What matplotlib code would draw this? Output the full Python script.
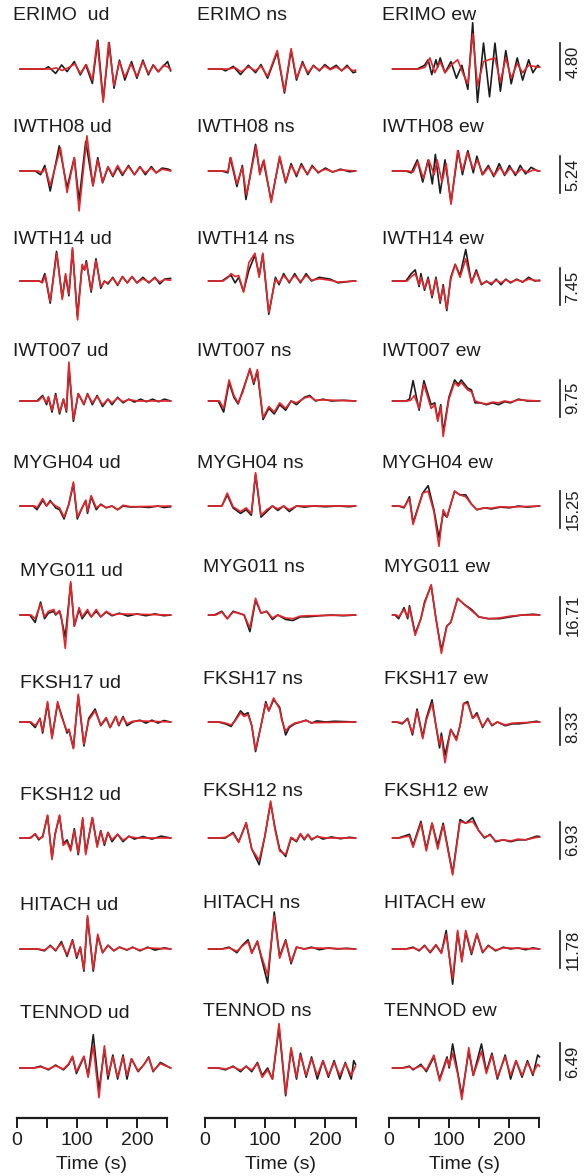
import numpy as np
import matplotlib
matplotlib.use("Agg")
import matplotlib.pyplot as plt

plt.rcParams["font.family"] = ["Liberation Sans", "DejaVu Sans"]

# Stations, components and scale-bar values (amplitudes in units of the scale bar)
stations = ["ERIMO", "IWTH08", "IWTH14", "IWT007", "MYGH04",
            "MYG011", "FKSH17", "FKSH12", "HITACH", "TENNOD"]
components = ["ud", "ns", "ew"]
scale_labels = ["4.80", "5.24", "7.45", "9.75", "15.25",
                "16.71", "8.33", "6.93", "11.78", "6.49"]
tick_values = [0, 50, 100, 150, 200, 250]
tick_labels = ["0", "", "100", "", "200", ""]

# (time s, amplitude) extrema, black = observed, red = synthetic
ERIMO_ud_obs = [(6, 0), (47, 0), (53, .06), (65, -.12), (75, .11), (84, -.07), (96, .2), (106, -.16), (115, .11),
                (126, -.39), (135, .78), (144, -.84), (154, .71), (162, -.52), (171, .24), (180, -.3), (191, .2),
                (200, -.25), (210, .24), (219, -.16), (227, .11), (235, -.07), (243, .06), (251, .2), (256, -.05)]
ERIMO_ud_syn = [(6, 0), (58, 0), (66, .03), (76, -.04), (88, .05), (97, .14), (106, -.12), (116, .12), (126, -.3),
                (134, .75), (144, -.9), (153, .72), (162, -.45), (171, .2), (180, -.22), (190, .14), (200, -.2),
                (210, .2), (219, -.12), (228, .1), (236, -.08), (244, .1), (251, .06), (256, -.02)]
ERIMO_ns_obs = [(6, 0), (28, 0), (34, -.05), (47, .07), (59, -.15), (72, .1), (84, -.1), (93, .12), (104, -.25),
                (120, .45), (132, -.65), (143, .5), (152, -.3), (162, .2), (171, -.15), (180, .1), (190, -.05),
                (199, .12), (208, 0), (218, .1), (227, -.05), (236, .1), (246, -.1), (250, -.08)]
ERIMO_ns_syn = [(6, 0), (40, 0), (50, .04), (60, -.08), (72, .06), (84, -.05), (93, .08), (104, -.2), (120, .5),
                (132, -.6), (143, .55), (152, -.25), (162, .15), (171, -.1), (180, .08), (190, -.03), (199, .08),
                (208, -.02), (218, .06), (227, -.04), (236, .06), (246, -.05), (250, -.03)]
ERIMO_ew_obs = [(6, 0), (47, 0), (59, .1), (65, .25), (71, -.15), (78, .25), (81, .05), (85, .3), (93, -.1),
                (103, .2), (112, -.25), (121, .1), (131, -.55), (139, 1.25), (147, -.9), (157, .7), (167, -.75),
                (176, .7), (185, -.6), (194, .5), (203, -.4), (213, .3), (222, -.3), (232, .25), (239, -.1),
                (247, .1), (250, .05)]
ERIMO_ew_syn = [(6, 0), (50, 0), (60, .05), (68, .3), (76, -.1), (85, .2), (93, -.1), (103, .1), (114, .25),
                (125, -.2), (131, -.4), (139, .95), (147, -.45), (157, .2), (166, .25), (176, .3), (185, -.35),
                (194, .3), (203, -.25), (213, .15), (222, -.1), (232, .1), (247, .05), (250, .05)]

IWTH08_ud_obs = [(6, 0), (31, 0), (40, -.1), (47, .15), (56, -.54), (71, .68), (84, -.45), (96, .36), (104, -.8),
                 (115, .8), (127, -.4), (135, .36), (143, -.32), (152, .1), (160, -.15), (168, .1), (176, -.12),
                 (186, .15), (196, -.1), (205, .12), (214, -.1), (224, .12), (232, -.05), (242, .08), (252, .05),
                 (256, .02)]
IWTH08_ud_syn = [(6, 0), (36, 0), (42, -.05), (48, .08), (56, -.4), (73, .63), (84, -.58), (96, .36), (104, -1.08),
                 (117, .95), (127, -.4), (135, .3), (143, -.3), (152, .12), (160, -.12), (168, .15), (176, -.08),
                 (186, .12), (196, -.1), (205, .1), (214, -.05), (224, .08), (232, -.05), (242, .05), (256, 0)]
IWTH08_ns_obs = [(6, 0), (28, 0), (38, -.05), (42, .36), (53, -.42), (62, .15), (68, -.77), (84, .72), (91, -.05),
                 (97, .27), (110, -.8), (124, .36), (134, -.32), (143, .2), (152, -.15), (160, .2), (170, -.1),
                 (178, .15), (188, -.05), (200, .08), (212, -.03), (225, .05), (240, -.02), (250, 0)]
IWTH08_ns_syn = [(6, 0), (32, 0), (38, -.02), (43, .36), (53, -.35), (62, .1), (69, -.65), (85, .68), (91, -.1),
                 (98, .3), (110, -.85), (124, .4), (134, -.3), (143, .15), (152, -.1), (160, .15), (170, -.08),
                 (178, .12), (188, -.03), (200, .05), (212, -.02), (225, .03), (250, 0)]
IWTH08_ew_obs = [(6, 0), (28, 0), (37, -.05), (47, .3), (56, -.3), (65, .3), (72, -.35), (77, .45), (85, -.6),
                 (93, .3), (103, -.85), (115, .55), (122, -.1), (131, .55), (140, -.05), (146, .4), (155, -.1),
                 (165, .15), (174, -.15), (183, .2), (192, -.12), (200, .15), (210, -.12), (218, .15), (227, -.08),
                 (236, .1), (247, 0), (250, 0)]
IWTH08_ew_syn = [(6, 0), (32, 0), (40, -.03), (48, .25), (57, -.2), (66, .3), (75, -.1), (80, .3), (88, -.3),
                 (95, .2), (103, -.9), (114, .55), (122, 0), (130, .5), (140, .05), (147, .3), (156, -.1), (165, .1),
                 (175, -.12), (184, .1), (193, -.1), (201, .08), (211, -.08), (220, .06), (230, -.04), (240, .03),
                 (250, 0)]

IWTH14_ud_obs = [(6, 0), (37, 0), (42, -.03), (47, .2), (56, -.6), (66.5, .8), (76, -.45), (81.5, .15), (87, -.4),
                 (93, .85), (101, -.95), (109, .4), (113, .3), (116, .55), (124, -.3), (132, .6), (140, -.2),
                 (146, 0), (152, -.08), (160, .1), (168, -.12), (176, .12), (184, -.05), (192, .12), (200, -.05),
                 (210, .1), (220, -.05), (230, .1), (238, -.08), (246, .05), (256, .07)]
IWTH14_ud_syn = [(6, 0), (38, 0), (43, -.05), (48, .15), (56, -.55), (67, .75), (76, -.5), (81.5, .2), (87, -.35),
                 (93, .9), (101.5, -1.05), (109, .45), (113, .3), (116, .5), (124, -.25), (132, .55), (140, -.15),
                 (146, -.02), (152, -.05), (160, .08), (168, -.1), (176, .12), (184, -.05), (192, .12), (200, -.05),
                 (210, .06), (220, -.03), (230, .08), (238, -.03), (246, .04), (256, .02)]
IWTH14_ns_obs = [(6, 0), (28, 0), (37, .1), (43.5, .15), (50, -.05), (56, .1), (64, -.28), (73, .3), (83, .7),
                 (90, .15), (96, .72), (106, -.9), (117, .1), (123, -.1), (130.6, .2), (140, -.05), (149, .2),
                 (158.6, -.05), (168, .2), (177, 0), (190, .1), (208, .05), (221, -.05), (246, 0), (250, 0)]
IWTH14_ns_syn = [(6, 0), (30, 0), (37, .08), (43.5, .2), (50, .12), (56, .15), (64, -.3), (73, .5), (83, .75),
                 (90, .1), (96, .75), (106, -.85), (117, .05), (123, -.05), (130.6, .15), (140, -.02), (149, .15),
                 (158.6, -.02), (168, .15), (177, .02), (190, .06), (208, .02), (221, -.03), (250, 0)]
IWTH14_ew_obs = [(6, 0), (28, 0), (37, .2), (43.5, .3), (50, -.15), (53, .2), (59, -.25), (65, .1), (71.5, -.45),
                 (78, .1), (85, -.6), (90, -.1), (96, -.8), (102.6, .1), (110, .45), (118, .15), (127.5, .85),
                 (137, -.05), (145, .3), (153.5, -.1), (162, 0), (170, -.1), (178, .05), (186, -.1), (194, .05),
                 (202, -.05), (212, .05), (222, -.03), (232, .1), (242, 0), (250, .02)]
IWTH14_ew_syn = [(6, 0), (30, 0), (37, .12), (43.5, .2), (50, -.1), (53, .1), (59, -.2), (65, .05), (71.5, -.4),
                 (78, .05), (85, -.55), (90, -.15), (96, -.75), (102.6, .05), (110, .45), (118, .1), (127.5, .6),
                 (137, -.05), (145, .25), (153.5, -.08), (162, -.02), (170, -.06), (178, .02), (186, -.05),
                 (194, .03), (202, -.03), (212, .03), (222, -.02), (232, .05), (250, 0)]

IWT007_ud_obs = [(6, 0), (34, 0), (43.5, .15), (50, -.1), (53, .1), (59, -.3), (65, .2), (71.5, -.35), (78, .05),
                 (83, -.3), (87, .9), (94.5, -.55), (102.6, .2), (112, -.1), (118, .2), (126, -.1), (134, .15),
                 (143, -.15), (152, .05), (158.6, -.1), (168, .1), (177, -.05), (186.6, .05), (196, -.03),
                 (206, .05), (216, -.02), (226, .05), (236, -.02), (246, .05), (256, 0)]
IWT007_ud_syn = [(6, 0), (36, 0), (43.5, .12), (50, -.05), (53, .12), (59, -.25), (65, .15), (71.5, -.3), (78, .05),
                 (83, -.25), (87, 1.05), (94.5, -.5), (102.6, .2), (112, -.08), (118, .18), (126, -.05), (134, .12),
                 (143, -.1), (152, .05), (158.6, -.05), (168, .08), (177, -.02), (186.6, .04), (200, 0), (256, 0)]
IWT007_ns_obs = [(6, 0), (22, 0), (31, -.3), (40, .5), (48, .1), (55, -.08), (63, .3), (74.6, .85), (81, .45),
                 (87, .8), (96.4, -.5), (106, -.2), (115, -.35), (124, -.1), (134, -.25), (143, 0), (152, -.1),
                 (165, .1), (174, .15), (183.5, 0), (196, .05), (210, 0), (230, .02), (250, 0)]
IWT007_ns_syn = [(6, 0), (24, 0), (31, -.2), (40, .57), (48, .15), (55, -.05), (63, .25), (74.6, .88), (81, .5),
                 (87, .85), (96.4, -.45), (106, -.15), (115, -.3), (124, -.05), (134, -.2), (143, 0), (152, -.05),
                 (165, .08), (174, .12), (183.5, .02), (196, .03), (250, 0)]
IWT007_ew_obs = [(6, 0), (28, 0), (34, .05), (40, .55), (50, -.25), (58, .55), (70, -.1), (76, -.05), (81, -.5),
                 (86, -.1), (90, -.85), (99.5, .1), (109, .57), (115, .45), (120, .57), (130.6, .35), (137, .3),
                 (143, -.05), (152, -.05), (162, -.1), (172, -.05), (182, -.1), (192, -.02), (202, -.05),
                 (215, .05), (230, 0), (250, 0)]
IWT007_ew_syn = [(6, 0), (30, 0), (36, .02), (42, .15), (50, -.2), (58, .45), (70, -.2), (76, -.1), (81, -.55),
                 (86, -.15), (90, -.96), (99.5, .05), (109, .5), (115, .4), (120, .5), (130.6, .3), (137, .25),
                 (143, 0), (152, -.05), (162, -.08), (172, -.03), (182, -.05), (192, 0), (202, -.03), (215, .03),
                 (250, 0)]

MYGH04_ud_obs = [(6, 0), (28, 0), (34, -.1), (43.5, .15), (50, 0), (56, .15), (65, -.05), (71.5, -.1), (79, -.35),
                 (87, .05), (94.5, .6), (101, -.35), (109, -.05), (115, .15), (118, -.2), (124, .25), (132.5, -.1),
                 (140, .05), (149, -.05), (158.6, 0), (168, -.1), (177, 0), (190, -.03), (205, -.02), (220, -.04),
                 (235, 0), (245, -.04), (256, -.02)]
MYGH04_ud_syn = [(6, 0), (30, 0), (34, -.05), (43.5, .2), (50, 0), (56, .12), (65, 0), (71.5, -.05), (79, -.3),
                 (87, .05), (94.5, .65), (101, -.3), (109, -.05), (115, .15), (118, -.15), (124, .28), (132.5, -.05),
                 (140, .03), (149, -.04), (158.6, 0), (168, -.1), (177, .02), (190, -.02), (256, 0)]
MYGH04_ns_obs = [(6, 0), (28, 0), (37, .3), (46.6, -.05), (59, -.2), (68.4, -.1), (77, -.25), (84, .85), (93, -.3),
                 (102.6, -.15), (112, 0), (121, -.12), (130.6, 0), (140, -.15), (152, 0), (165, -.03), (180, 0),
                 (200, -.02), (220, 0), (240, -.02), (250, 0)]
MYGH04_ns_syn = [(6, 0), (28, 0), (37, .35), (46.6, -.02), (59, -.15), (68.4, -.05), (77, -.2), (84, .9), (93, -.25),
                 (102.6, -.1), (112, 0), (121, -.08), (130.6, 0), (140, -.1), (152, 0), (250, 0)]
MYGH04_ew_obs = [(6, 0), (16, 0), (25, -.05), (34, .25), (40, -.45), (56, .35), (65, .55), (74.6, -.1), (83, -.85),
                 (90, -.2), (96.4, -.3), (109, .4), (118, .3), (127.5, .3), (137, .05), (146, -.1), (158.6, -.05),
                 (170, -.08), (185, -.03), (200, -.05), (215, 0), (230, -.03), (250, 0)]
MYGH04_ew_syn = [(6, 0), (18, 0), (25, -.03), (34, .2), (40, -.5), (56, .35), (65, .4), (74.6, -.15), (83, -1.09),
                 (90, -.1), (96.4, -.3), (109, .4), (118, .3), (127.5, .25), (137, .05), (146, -.1), (158.6, -.05),
                 (170, -.06), (185, -.02), (200, -.03), (250, 0)]

MYG011_ud_obs = [(6, 0), (22, 0), (31, -.2), (40, .35), (46.6, -.1), (53, .05), (62, .1), (65, 0), (71.5, .1),
                 (74.6, -.1), (81, -.6), (90, .85), (96, -.3), (104, .15), (109, -.1), (118, .1), (124, -.05),
                 (132.5, .1), (140, -.05), (149, .08), (158.6, -.02), (171, .05), (185, -.03), (200, .03),
                 (215, -.02), (230, .03), (245, -.02), (256, 0)]
MYG011_ud_syn = [(6, 0), (24, 0), (31, -.1), (40, .3), (46.6, -.05), (53, .1), (62, .15), (65, .02), (71.5, .12),
                 (74.6, -.05), (81, -.9), (90, .9), (96, -.3), (104, .2), (109, -.05), (118, .15), (124, -.05),
                 (132.5, .15), (140, -.05), (149, .1), (158.6, 0), (171, .03), (200, .02), (256, 0)]
MYG011_ns_obs = [(6, 0), (15.5, 0), (28, .1), (37, -.1), (46.6, .1), (56, .05), (65, 0), (74.6, -.45), (84, .4),
                 (93, .05), (102.6, .1), (112, -.12), (121, 0), (134, -.12), (146, -.15), (158.6, -.05), (171, -.05),
                 (190, -.02), (210, 0), (230, -.02), (250, 0)]
MYG011_ns_syn = [(6, 0), (18, 0), (28, .08), (37, -.1), (46.6, .08), (56, .05), (65, 0), (74.6, -.35), (84, .45),
                 (93, .05), (102.6, .1), (112, -.08), (121, 0), (134, -.08), (146, -.1), (158.6, -.03), (171, -.02),
                 (250, 0)]
MYG011_ew_obs = [(6, 0), (10, 0), (16, -.1), (25, .2), (31, -.1), (34, .25), (43.5, -.5), (53, -.1), (59, .35),
                 (70, .8), (78, -.1), (87, -.95), (96, -.3), (102.6, -.2), (114, .45), (124, .3), (137, .15),
                 (149, -.05), (165, -.1), (183.5, -.1), (202, -.05), (221, 0), (240, .02), (250, 0)]
MYG011_ew_syn = [(6, 0), (12, 0), (16, -.05), (25, .15), (31, -.05), (34, .2), (43.5, -.55), (53, -.1), (59, .3),
                 (70, .82), (78, -.1), (87, -1.04), (96, -.3), (102.6, -.2), (114, .45), (124, .3), (137, .12),
                 (149, -.05), (165, -.1), (183.5, -.08), (202, -.03), (221, 0), (250, 0)]

FKSH17_ud_obs = [(6, 0), (22, 0), (31, -.15), (39, .1), (43.5, -.3), (51.6, .5), (59, -.4), (68.4, .5), (74.6, .2),
                 (84, -.3), (87, -.2), (94.5, -.7), (102.6, .7), (112, -.65), (120, .1), (130.6, .35), (140, -.1),
                 (149, .1), (155.5, -.15), (165, .15), (170, -.1), (177, .15), (183.5, -.1), (193, 0), (205, .05),
                 (215, -.03), (225, .05), (235, -.03), (245, .04), (256, 0)]
FKSH17_ud_syn = [(6, 0), (24, 0), (31, -.1), (39, .08), (43.5, -.25), (51.6, .55), (59, -.45), (68.4, .55),
                 (74.6, .15), (84, -.25), (87, -.2), (94.5, -.72), (102.6, .75), (112, -.6), (120, .05), (130.6, .3),
                 (140, -.08), (149, .12), (155.5, -.15), (165, .15), (170, -.08), (177, .12), (183.5, -.05),
                 (193, .02), (205, .03), (256, 0)]
FKSH17_ns_obs = [(6, 0), (22, 0), (34, -.05), (43.5, -.12), (50, .05), (59, .3), (65, .2), (71.5, .25), (77.7, -.1),
                 (84, -.8), (93, -.1), (101, .55), (106, .3), (114, .6), (124, .4), (127.5, .1), (134, -.35),
                 (140, -.15), (149, -.05), (158.6, 0), (168, .05), (177, -.03), (186, .03), (200, 0), (215, .02),
                 (250, 0)]
FKSH17_ns_syn = [(6, 0), (25, 0), (34, -.03), (43.5, -.08), (50, .03), (59, .25), (65, .15), (71.5, .2),
                 (77.7, -.1), (84, -.75), (93, -.1), (101, .5), (106, .3), (114, .65), (124, .35), (127.5, .05),
                 (134, -.25), (140, -.12), (149, -.03), (158.6, 0), (168, .04), (177, -.02), (250, 0)]
FKSH17_ew_obs = [(6, 0), (12.4, 0), (22, -.05), (31, .1), (39, -.35), (46.6, .35), (56, -.4), (62, .1), (71.5, .6),
                 (78, -.1), (84, -.7), (87, -.3), (93, -.9), (102.6, -.2), (112, -.45), (118, -.1), (124, .5),
                 (130.6, .55), (139, .1), (146, .25), (155.5, -.15), (164, .1), (171, -.1), (180, 0), (193, -.1),
                 (205, -.05), (215, -.05), (230, -.02), (245, .02), (250, 0)]
FKSH17_ew_syn = [(6, 0), (14, 0), (22, -.03), (31, .08), (39, -.3), (46.6, .3), (56, -.45), (62, .05), (71.5, .5),
                 (78, -.1), (84, -.6), (87, -.4), (93, -1.1), (102.6, -.2), (112, -.5), (118, -.1), (124, .5),
                 (130.6, .5), (139, .1), (146, .2), (155.5, -.12), (164, .08), (171, -.08), (180, 0), (193, -.08),
                 (205, -.03), (250, 0)]

FKSH12_ud_obs = [(6, 0), (22, 0), (31, .1), (37, -.05), (43.5, .05), (51.6, .6), (59, -.55), (64, .1), (71.5, .6),
                 (77.7, -.15), (84, -.05), (90, -.3), (96, .25), (102.6, -.45), (110, .5), (115, -.4), (126, .55),
                 (134, -.2), (140, .2), (146, -.2), (152, .15), (158.6, -.1), (168, .1), (177, -.1), (186.6, .05),
                 (196, -.03), (210, .04), (225, -.03), (240, .05), (256, 0)]
FKSH12_ud_syn = [(6, 0), (24, 0), (31, .12), (37, -.02), (43.5, .02), (51.6, .62), (59, -.58), (64, .08),
                 (71.5, .62), (77.7, -.2), (84, -.1), (90, -.35), (96, .2), (102.6, -.4), (110, .55), (115, -.45),
                 (126, .55), (134, -.25), (140, .18), (146, -.15), (152, .15), (158.6, -.05), (168, .1),
                 (177, -.06), (186.6, .04), (200, 0), (256, 0)]
FKSH12_ns_obs = [(6, 0), (22, 0), (34, 0), (46.6, .15), (56, -.1), (68.4, .4), (77.7, -.3), (90, -.72), (99.5, .05),
                 (109, .95), (116, .3), (124, -.3), (134, -.5), (143, 0), (152, -.1), (158.6, .1), (165, -.05),
                 (171, .1), (177, -.05), (186.6, .05), (196, -.03), (210, .03), (225, -.02), (240, .02), (250, 0)]
FKSH12_ns_syn = [(6, 0), (24, 0), (34, .02), (46.6, .12), (56, -.12), (68.4, .42), (77.7, -.3), (90, -.6),
                 (99.5, .05), (109, 1.0), (116, .25), (124, -.35), (134, -.45), (143, .02), (152, -.08),
                 (158.6, .12), (165, -.03), (171, .1), (177, -.03), (186.6, .04), (200, 0), (250, 0)]
FKSH12_ew_obs = [(6, 0), (15.5, 0), (25, .05), (34, .1), (40, -.2), (53, .45), (62, -.3), (71.5, .4), (81, -.2),
                 (90, .4), (105.7, -.95), (118, .5), (127.5, .4), (139, .55), (149, .2), (158.6, 0), (168, .1),
                 (177, -.1), (190, -.05), (202, -.1), (214.5, -.05), (227, -.05), (245.6, .05), (250, .04)]
FKSH12_ew_syn = [(6, 0), (18, 0), (25, .03), (34, .05), (40, -.25), (53, .4), (62, -.35), (71.5, .4), (81, -.3),
                 (90, .35), (105.7, -1.0), (118, .45), (127.5, .4), (139, .45), (149, .2), (158.6, .02), (168, .08),
                 (177, -.08), (190, -.05), (202, -.08), (214.5, -.03), (227, -.05), (245.6, .02), (250, .02)]

HITACH_ud_obs = [(6, 0), (34, 0), (46.6, -.05), (56, .1), (65, -.05), (74.6, .2), (84, -.2), (93, .25), (100, -.25),
                 (106, .05), (112, -.6), (118, .85), (127.5, -.6), (135, .35), (143, -.1), (152, .1), (161.7, -.05),
                 (171, .05), (183.5, -.03), (193, .05), (205, -.05), (218, .05), (230, -.03), (245.6, .03), (256, 0)]
HITACH_ud_syn = [(6, 0), (36, 0), (46.6, -.03), (56, .08), (65, -.03), (74.6, .15), (84, -.15), (93, .22),
                 (100, -.2), (106, .05), (112, -.55), (118, .9), (127.5, -.55), (135, .4), (143, -.1), (152, .1),
                 (161.7, -.04), (171, .05), (183.5, -.02), (193, .04), (205, -.03), (218, .03), (256, 0)]
HITACH_ns_obs = [(6, 0), (28, 0), (40, .05), (53, -.1), (62, .1), (71.5, .25), (77.7, -.1), (87, .2), (93, -.2),
                 (104, -.92), (115, 1.0), (124, -.2), (134, .25), (143, -.4), (152, .05), (165, 0), (177, .05),
                 (190, -.02), (205, .03), (220, 0), (235, .02), (250, 0)]
HITACH_ns_syn = [(6, 0), (30, 0), (40, .03), (53, -.06), (62, .08), (71.5, .2), (77.7, -.12), (87, .22),
                 (93, -.15), (104, -.7), (115, .9), (124, -.25), (134, .22), (143, -.35), (152, .05), (165, 0),
                 (177, .03), (250, 0)]
HITACH_ew_obs = [(6, 0), (28, 0), (40, .05), (50, -.05), (59, .1), (68.4, -.1), (78, .1), (87, -.1), (95, .5),
                 (105.7, -.95), (114, .45), (121, -.3), (127.5, .45), (137, -.15), (146, .4), (155.5, -.1),
                 (165, .1), (177, -.05), (190, .05), (202, 0), (214.5, .03), (227, -.02), (239, .03), (250, 0)]
HITACH_ew_syn = [(6, 0), (30, 0), (40, .03), (50, -.03), (59, .08), (68.4, -.08), (78, .12), (87, -.12), (95, .4),
                 (105.7, -.8), (114, .5), (121, -.35), (127.5, .5), (137, -.1), (146, .42), (155.5, -.08),
                 (165, .08), (177, -.03), (190, .03), (250, 0)]

TENNOD_ud_obs = [(6, 0), (28, 0), (40, .05), (53, -.05), (65, .08), (78, -.05), (87, .1), (93, .3), (99.5, -.15),
                 (112, .3), (119, -.2), (127.5, .9), (137, -.6), (146, .5), (152, -.3), (160, .35), (168, -.3),
                 (177, .35), (183.5, -.3), (191, .25), (202, -.1), (212, .1), (219.5, .3), (227, -.1), (239, .15),
                 (256, 0)]
TENNOD_ud_syn = [(6, 0), (30, 0), (40, .03), (53, -.03), (65, .06), (78, -.03), (87, .12), (93, .32), (99.5, -.1),
                 (112, .32), (119, -.25), (127.5, .6), (137, -.8), (146, .6), (152, -.2), (160, .3), (168, -.25),
                 (177, .3), (183.5, -.2), (191, .25), (202, -.08), (212, .1), (219.5, .28), (227, -.08), (239, .12),
                 (256, 0)]
TENNOD_ns_obs = [(6, 0), (22, 0), (34, -.05), (46.6, .05), (59, -.1), (68.4, .05), (77.7, -.1), (87, .15),
                 (95, -.2), (104, 0), (112, -.3), (123, 1.1), (134, -.75), (143, .5), (152, -.3), (158.6, .4),
                 (168, -.25), (177, .3), (186.6, -.3), (196, .2), (205, -.25), (214.5, .2), (224, -.3), (233, .15),
                 (243, -.3), (247, .2), (250, .1)]
TENNOD_ns_syn = [(6, 0), (24, 0), (34, -.03), (46.6, .03), (59, -.06), (68.4, .04), (77.7, -.06), (87, .12),
                 (95, -.25), (104, -.05), (112, -.3), (123, 1.2), (134, -.7), (143, .55), (152, -.25), (158.6, .35),
                 (168, -.2), (177, .25), (186.6, -.2), (196, .2), (205, -.2), (214.5, .15), (224, -.2), (233, .12),
                 (243, -.2), (250, .05)]
TENNOD_ew_obs = [(6, 0), (22, 0), (34, .05), (40, -.05), (53, .1), (62, -.1), (74.6, .3), (84, -.3), (96.4, .3),
                 (100, 0), (105.7, .65), (114, -.1), (121, -.75), (132.5, .45), (140, -.2), (153.6, .65),
                 (161.7, -.1), (171, .4), (180, -.3), (193, .35), (202, -.3), (211, .2), (221, -.25), (230, .2),
                 (239, -.2), (247, .35), (250, .3)]
TENNOD_ew_syn = [(6, 0), (24, 0), (34, .03), (40, -.03), (53, .06), (62, -.06), (74.6, .35), (84, -.35),
                 (96.4, .25), (100, .05), (105.7, .4), (114, -.15), (121, -.85), (132.5, .55), (140, -.2),
                 (153.6, .45), (161.7, -.15), (171, .35), (180, -.25), (193, .3), (202, -.2), (211, .2),
                 (221, -.2), (230, .15), (239, -.15), (247, .1), (250, .05)]

traces = {}
for st in stations:
    for comp in components:
        traces[(st, comp)] = (globals()[f"{st}_{comp}_obs"], globals()[f"{st}_{comp}_syn"])

# layout in pixels (figure 587 x 1176)
W, H = 587, 1176
row_base = [69, 171, 281, 401, 506, 615, 722, 838, 949, 1068]
bar_center = [61.5, 174.5, 286.5, 398, 509.5, 615, 726.5, 840, 949.5, 1061.5]
bar_px = 37
label_y_ud = [15, 128, 240, 351, 464, 572, 683, 795, 906, 1014]
label_y_oth = [15, 128, 240, 351, 464, 567, 679, 792, 903, 1011]
label_x_top = [13, 197, 382]
label_x_bot = [19.5, 203, 383.5]
col_left = [16.5, 205, 389]
col_width = 150.5
spine_y = 1118

black = "#1c1c1c"
red = "#e3262b"

fig = plt.figure(figsize=(W / 100, H / 100), dpi=100)

axes = []
for c in range(3):
    ax = fig.add_axes([col_left[c] / W, 1 - spine_y / H, col_width / W, spine_y / H])
    ax.set_xlim(0, 250)
    ax.set_ylim(spine_y, 0)
    ax.patch.set_visible(False)
    for s in ["left", "right", "top"]:
        ax.spines[s].set_visible(False)
    ax.spines["bottom"].set_linewidth(1.6)
    ax.spines["bottom"].set_color(black)
    ax.set_yticks([])
    ax.set_xticks(tick_values)
    ax.set_xticklabels(tick_labels)
    ax.tick_params(axis="x", direction="out", length=7, width=1.4, labelsize=14,
                   pad=3, colors=black)
    ax.set_xlabel("Time (s)", fontsize=14, labelpad=5, color=black)
    axes.append(ax)

for r, st in enumerate(stations):
    for c, comp in enumerate(components):
        ax = axes[c]
        obs, syn = traces[(st, comp)]
        t_o, a_o = zip(*obs)
        t_s, a_s = zip(*syn)
        ax.plot(t_o, row_base[r] - np.array(a_o) * bar_px, color=black, lw=1.2,
                solid_joinstyle="round", clip_on=False)
        ax.plot(t_s, row_base[r] - np.array(a_s) * bar_px, color=red, lw=1.2,
                solid_joinstyle="round", clip_on=False)

        lx = (label_x_top if r < 5 else label_x_bot)[c]
        ly = (label_y_ud if c == 0 else label_y_oth)[r]
        name = f"{st}  {comp}" if (st == "ERIMO" and comp == "ud") else f"{st} {comp}"
        fig.text(lx / W, 1 - ly / H, name, fontsize=14, color=black, ha="left", va="center")

    # scale bar
    y0 = bar_center[r] - bar_px / 2
    y1 = bar_center[r] + bar_px / 2
    fig.add_artist(plt.Line2D([560 / W, 560 / W], [1 - y0 / H, 1 - y1 / H], color=black, lw=1.2))
    fig.text(573 / W, 1 - bar_center[r] / H, scale_labels[r], rotation=90, fontsize=12,
             color=black, ha="center", va="center")

fig.savefig("out.png", dpi=100)
